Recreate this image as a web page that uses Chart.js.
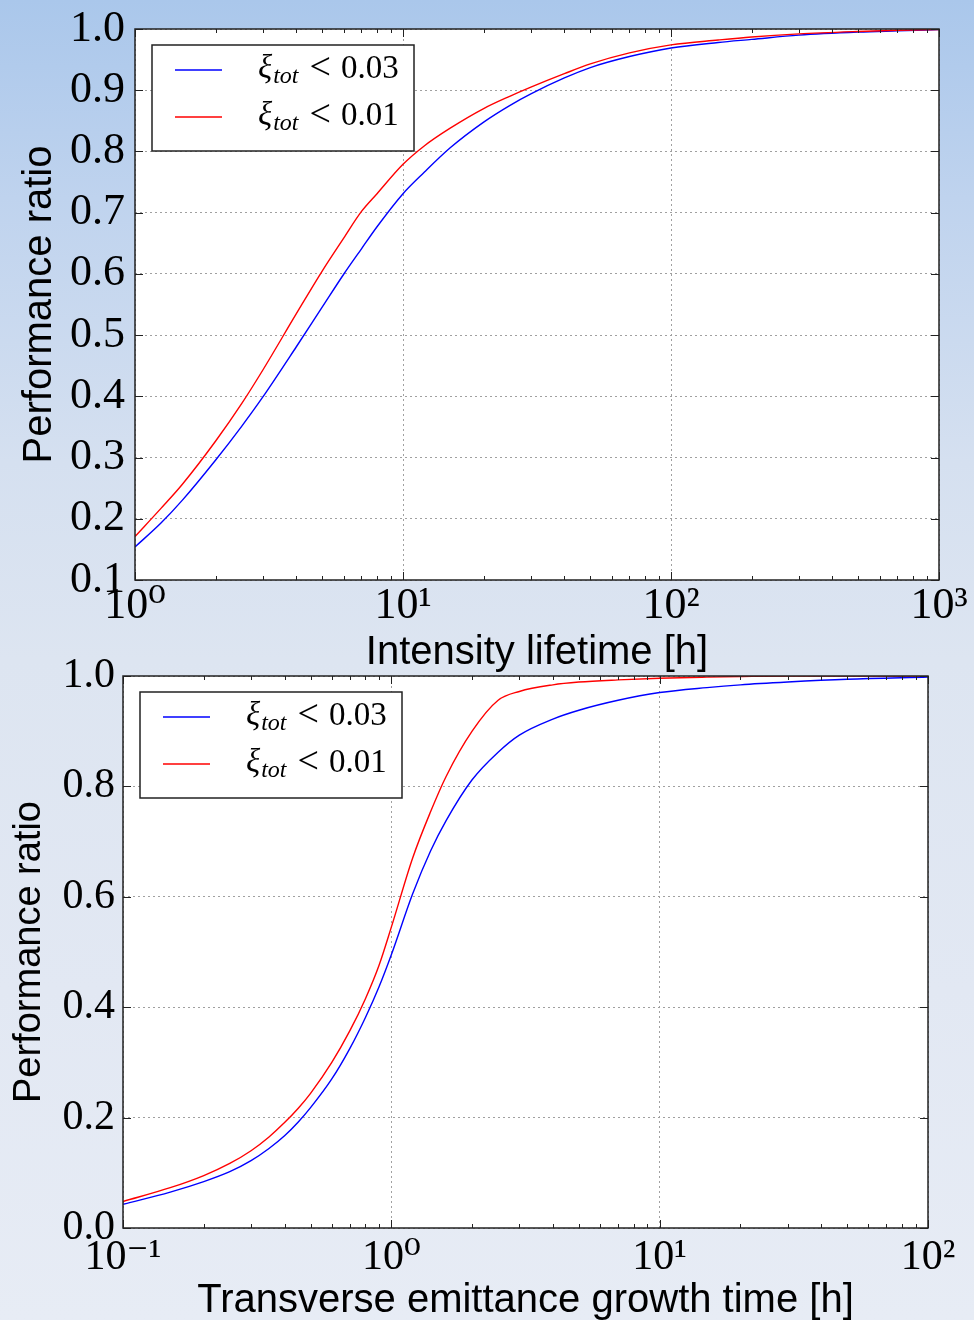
<!DOCTYPE html>
<html>
<head>
<meta charset="utf-8">
<script src="https://cdn.jsdelivr.net/npm/chart.js@4.4.1/dist/chart.umd.min.js"></script>
<style>
    html, body { margin: 0; padding: 0; }
    body {
        width: 974px; height: 1320px; position: relative; overflow: hidden;
        background: linear-gradient(180deg, #aac7eb 0%, #bfd3ee 15%, #d5e0f0 35%, #dde5f1 50%, #e2e8f3 75%, #e7ecf5 100%);
    }
    canvas { position: absolute; left: 0; }
    #graficoLifetime { top: 0; }
    #graficoEmittance { top: 640px; }
</style>
</head>
<body>
<canvas id="graficoLifetime" width="974" height="680"></canvas>
<canvas id="graficoEmittance" width="974" height="680"></canvas>
<script>
// Intensity lifetime [h] and performance ratio for both beam-beam limits
const lifetimeHours = [1, 1.25, 1.5, 2, 2.5, 3, 4, 5, 6, 7, 8, 10, 12, 15, 20, 25, 30, 40, 50, 70, 100, 150, 200, 300, 500, 700, 1000];
const lifetimeRatio003 = [0.154, 0.193, 0.230, 0.296, 0.351, 0.399, 0.481, 0.546, 0.599, 0.641, 0.677, 0.731, 0.766, 0.806, 0.848, 0.875, 0.894, 0.920, 0.937, 0.955, 0.969, 0.978, 0.983, 0.990, 0.995, 0.997, 0.999];
const lifetimeRatio001 = [0.171, 0.217, 0.256, 0.327, 0.388, 0.443, 0.535, 0.605, 0.658, 0.702, 0.731, 0.779, 0.809, 0.838, 0.870, 0.890, 0.905, 0.927, 0.943, 0.961, 0.974, 0.982, 0.987, 0.992, 0.996, 0.998, 0.999];

// Transverse emittance growth time [h]
const growthHours = [0.1, 0.15, 0.2, 0.25, 0.3, 0.35, 0.4, 0.45, 0.5, 0.6, 0.7, 0.8, 0.9, 1.0, 1.2, 1.4, 1.6, 2.0, 2.5, 3, 4, 5, 7, 10, 15, 20, 30, 50, 100];
const growthRatio003 = [0.043, 0.065, 0.084, 0.102, 0.122, 0.144, 0.167, 0.192, 0.218, 0.270, 0.325, 0.381, 0.437, 0.495, 0.605, 0.683, 0.738, 0.812, 0.862, 0.893, 0.922, 0.938, 0.956, 0.970, 0.979, 0.984, 0.989, 0.994, 0.998];
const growthRatio001 = [0.048, 0.073, 0.095, 0.117, 0.140, 0.165, 0.191, 0.217, 0.244, 0.300, 0.357, 0.415, 0.476, 0.545, 0.670, 0.754, 0.818, 0.900, 0.956, 0.972, 0.984, 0.989, 0.993, 0.996, 0.998, 0.999, 1.0, 1.0, 1.0];

const xiLimits = ['0.03', '0.01'];
const lifetimeDecades = [1, 10, 100, 1000];
const growthDecades = [0.1, 1, 10, 100];

const SERIF = '"Liberation Serif", "DejaVu Serif", serif';
const SANS = '"Liberation Sans", Arial, sans-serif';
const SUP = { '-': '\u207B', '0': '\u2070', '1': '\u00B9', '2': '\u00B2', '3': '\u00B3' };

function decadeLabel(v) {
    const e = String(Math.round(Math.log10(v)));
    return '10' + e.split('').map(c => SUP[c]).join('');
}

function pontos(xs, ys) {
    return xs.map((x, i) => ({ x, y: ys[i] }));
}

// fundo branco, moldura e marcas internas (maiores nas décadas, menores 2..9)
const plotFrame = {
    id: 'plotFrame',
    beforeDraw(chart) {
        const { ctx, chartArea: a } = chart;
        ctx.save();
        ctx.fillStyle = '#ffffff';
        ctx.fillRect(a.left, a.top, a.width, a.height);
        ctx.restore();
    },
    afterDraw(chart) {
        const { ctx, chartArea: a, scales: { x, y } } = chart;
        ctx.save();
        ctx.strokeStyle = '#222';
        ctx.lineWidth = 1;
        ctx.beginPath();
        const lo = Math.floor(Math.log10(x.min) + 1e-9);
        const hi = Math.ceil(Math.log10(x.max) - 1e-9);
        for (let e = lo; e <= hi; e++) {
            for (let m = 1; m < 10; m++) {
                const v = m * Math.pow(10, e);
                if (v < x.min * 0.999 || v > x.max * 1.001) continue;
                const px = Math.round(x.getPixelForValue(v)) + 0.5;
                const len = m === 1 ? 8 : 4;
                ctx.moveTo(px, a.bottom); ctx.lineTo(px, a.bottom - len);
                ctx.moveTo(px, a.top); ctx.lineTo(px, a.top + len);
            }
        }
        y.ticks.forEach(t => {
            const py = Math.round(y.getPixelForValue(t.value)) + 0.5;
            ctx.moveTo(a.left, py); ctx.lineTo(a.left + 8, py);
            ctx.moveTo(a.right, py); ctx.lineTo(a.right - 8, py);
        });
        ctx.stroke();
        ctx.lineWidth = 1.5;
        ctx.strokeRect(a.left, a.top, a.width, a.height);
        ctx.restore();
    }
};

// legenda com ξ_tot em itálico e subscrito
const xiLegend = {
    id: 'xiLegend',
    afterDraw(chart, args, o) {
        const { ctx, chartArea: a } = chart;
        const bx = a.left + o.x, by = a.top + o.y;
        ctx.save();
        ctx.fillStyle = '#ffffff';
        ctx.fillRect(bx, by, o.w, o.h);
        ctx.strokeStyle = '#222';
        ctx.lineWidth = 1.5;
        ctx.strokeRect(bx, by, o.w, o.h);
        chart.data.datasets.forEach((ds, i) => {
            const cy = by + o.rowTop + i * o.rowGap;
            ctx.strokeStyle = ds.borderColor;
            ctx.lineWidth = ds.borderWidth;
            ctx.beginPath();
            ctx.moveTo(bx + 23, cy); ctx.lineTo(bx + 70, cy);
            ctx.stroke();

            const partes = ds.label.replace(/^ξtot\s*/, '').split(/\s+/);
            const base = cy + o.size * 0.24;
            let tx = bx + o.textX;
            ctx.fillStyle = '#000';
            ctx.textBaseline = 'alphabetic';
            ctx.textAlign = 'left';
            ctx.font = `italic ${o.size}px ${SERIF}`;
            ctx.fillText('ξ', tx, base);
            tx += ctx.measureText('ξ').width + 1;
            ctx.font = `italic ${Math.round(o.size * 0.72)}px ${SERIF}`;
            ctx.fillText('tot', tx, base + o.size * 0.16);
            tx += ctx.measureText('tot').width + 11;
            ctx.font = `${Math.round(o.size * 1.15)}px ${SERIF}`;
            ctx.fillText(partes[0], tx, base + 1);
            tx += ctx.measureText(partes[0]).width + 10;
            ctx.font = `${o.size}px ${SERIF}`;
            ctx.fillText(partes[1], tx, base);
        });
        ctx.restore();
    }
};

function criarGrafico(id, cfg) {
    const ctx = document.getElementById(id).getContext('2d');
    return new Chart(ctx, {
        type: 'line',
        data: {
            datasets: [{
                label: `ξtot < ${xiLimits[0]}`,
                data: pontos(cfg.xs, cfg.blue),
                borderColor: '#0000ff',
                borderWidth: 1.4,
                order: 1
            }, {
                label: `ξtot < ${xiLimits[1]}`,
                data: pontos(cfg.xs, cfg.red),
                borderColor: '#ff0000',
                borderWidth: 1.4,
                order: 0
            }]
        },
        options: {
            responsive: false,
            devicePixelRatio: 1,
            animation: false,
            events: [],
            layout: { padding: { top: cfg.padTop, right: cfg.padRight, left: 0, bottom: 0 } },
            elements: {
                point: { radius: 0 },
                line: { cubicInterpolationMode: 'monotone', fill: false }
            },
            plugins: {
                legend: { display: false },
                tooltip: { enabled: false },
                xiLegend: { x: 17, y: 16, w: 262, h: 106, rowTop: 25, rowGap: 47, textX: 106, size: 33 }
            },
            scales: {
                x: {
                    type: 'logarithmic',
                    min: cfg.decades[0],
                    max: cfg.decades[cfg.decades.length - 1],
                    afterBuildTicks: s => { s.ticks = cfg.decades.map(v => ({ value: v, major: true })); },
                    afterFit: s => { s.height = cfg.xHeight; s.paddingLeft = 0; s.paddingRight = 0; },
                    grid: { color: '#a0a0a0', lineWidth: 1, drawTicks: false },
                    border: { display: false, dash: [2, 3] },
                    ticks: {
                        autoSkip: false, maxRotation: 0, minRotation: 0, padding: cfg.xTickPad,
                        color: '#000',
                        font: { family: SERIF, size: cfg.tickSize, lineHeight: 1 },
                        callback: v => decadeLabel(v)
                    },
                    title: {
                        display: true, text: cfg.xTitle, color: '#000',
                        font: { family: SANS, size: cfg.xTitleSize, lineHeight: 1 },
                        padding: { top: 0, bottom: cfg.xTitlePad }
                    }
                },
                y: {
                    min: cfg.yMin, max: 1.0,
                    afterFit: s => { s.width = cfg.yWidth; s.paddingTop = 0; s.paddingBottom = 0; },
                    grid: { color: '#a0a0a0', lineWidth: 1, drawTicks: false },
                    border: { display: false, dash: [2, 3] },
                    ticks: {
                        stepSize: cfg.yStep, padding: cfg.yTickPad, color: '#000',
                        font: { family: SERIF, size: cfg.tickSize, lineHeight: 1 },
                        callback: v => v.toFixed(1)
                    },
                    title: {
                        display: true, text: 'Performance ratio', color: '#000',
                        font: { family: SANS, size: cfg.yTitleSize, lineHeight: 1 },
                        padding: { top: cfg.yTitlePad, bottom: 0 }
                    }
                }
            }
        },
        plugins: [plotFrame, xiLegend]
    });
}

criarGrafico('graficoLifetime', {
    xs: lifetimeHours, blue: lifetimeRatio003, red: lifetimeRatio001,
    decades: lifetimeDecades, xTitle: 'Intensity lifetime [h]',
    yMin: 0.1, yStep: 0.1,
    padTop: 29, padRight: 35, xHeight: 100, yWidth: 135,
    tickSize: 44, xTitleSize: 40, yTitleSize: 40,
    xTitlePad: 7, yTitlePad: 20, yTickPad: 10, xTickPad: 4
});

criarGrafico('graficoEmittance', {
    xs: growthHours, blue: growthRatio003, red: growthRatio001,
    decades: growthDecades, xTitle: 'Transverse emittance growth time [h]',
    yMin: 0.0, yStep: 0.2,
    padTop: 36, padRight: 46, xHeight: 92, yWidth: 123,
    tickSize: 42, xTitleSize: 40, yTitleSize: 38,
    xTitlePad: -1, yTitlePad: 11, yTickPad: 8, xTickPad: 9
});
</script>
</body>
</html>
